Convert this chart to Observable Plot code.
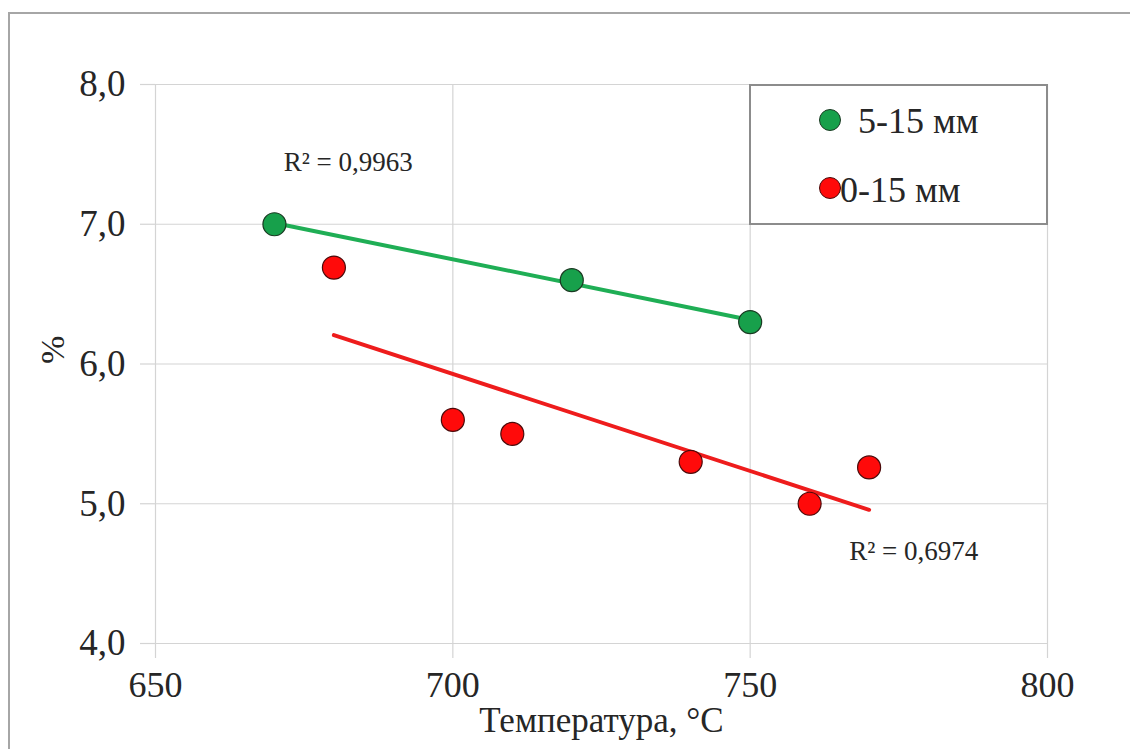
<!DOCTYPE html>
<html>
<head>
<meta charset="utf-8">
<script src="https://cdn.jsdelivr.net/npm/d3@7"></script>
<script src="https://cdn.jsdelivr.net/npm/@observablehq/plot@0.6"></script>
<style>
  html, body { margin: 0; padding: 0; background: #fff; }
  #wrap { position: relative; width: 1130px; height: 749px; overflow: hidden; font-family: "Liberation Serif", "Times New Roman", serif; color: #262626; }
  #outer { position: absolute; left: 8px; top: 12px; width: 1200px; height: 800px; border-left: 2px solid #a6a6a6; border-top: 2px solid #a6a6a6; pointer-events: none; }
  #legend { position: absolute; left: 749px; top: 84px; width: 295px; height: 137px; border: 2px solid #8c8c8c; background: #fff; }
  .lg { position: absolute; font-size: 36px; line-height: 1; white-space: nowrap; }
  .dot { position: absolute; width: 20px; height: 20px; border-radius: 50%; border: 1px solid #333; }
</style>
</head>
<body>
<div id="wrap">
  <div id="chart"></div>
  <div id="outer"></div>
</div>
<script>
// Data
const temp515 = [670, 720, 750];
const val515 = [7.0, 6.6, 6.3];
const temp015 = [680, 700, 710, 740, 760, 770];
const val015 = [6.69, 5.6, 5.5, 5.3, 5.0, 5.26];
const seriesNames = ["5-15 мм", "0-15 мм"];
const xTicks = [650, 700, 750, 800];
const yTicks = [4, 5, 6, 7, 8];
const r2Labels = ["R² = 0,9963", "R² = 0,6974"];
const r2X = [682.4, 777.5];
const r2Y = [7.443, 4.657];
const xLabel = "Температура, °C";
const yLabel = "%";

const green = "#17a04b";
const greenLine = "#1fae55";
const red = "#ff0a0a";
const redLine = "#ee1c1c";
const gridColor = "#d4d4d4";
const textColor = "#262626";
const font = "'Liberation Serif', 'Times New Roman', serif";

const s515 = temp515.map((t, i) => ({t, v: val515[i]}));
const s015 = temp015.map((t, i) => ({t, v: val015[i]}));
const ann = r2Labels.map((text, i) => ({text, x: r2X[i], y: r2Y[i]}));

const fmt = d => d3.format(".1f")(d).replace(".", ",");

const chart = Plot.plot({
  width: 1130,
  height: 749,
  marginLeft: 155,
  marginRight: 83,
  marginTop: 84,
  marginBottom: 106,
  style: { fontFamily: font, background: "transparent", color: textColor },
  x: { domain: [650, 800] },
  y: { domain: [4, 8] },
  marks: [
    Plot.gridX(xTicks, { stroke: gridColor, strokeOpacity: 1, strokeWidth: 1.2 }),
    Plot.gridY(yTicks, { stroke: gridColor, strokeOpacity: 1, strokeWidth: 1.2 }),
    Plot.axisX(xTicks, { tickSize: 15, stroke: gridColor, strokeOpacity: 1, strokeWidth: 1.2, tickFormat: () => "", label: null }),
    Plot.axisY(yTicks, { tickSize: 15, stroke: gridColor, strokeOpacity: 1, strokeWidth: 1.2, tickFormat: () => "", label: null }),
    Plot.axisX(xTicks, { tickSize: 0, tickPadding: 28, fontSize: 36, fill: textColor, label: null, tickFormat: d => String(d) }),
    Plot.axisY(yTicks, { tickSize: 0, tickPadding: 30, fontSize: 37, fill: textColor, label: null, tickFormat: fmt }),
    Plot.text([xLabel], { frameAnchor: "bottom", dy: 88, fontSize: 35, fill: textColor }),
    Plot.text([yLabel], { frameAnchor: "left", dx: -102, rotate: -90, fontSize: 34, fill: textColor }),
    Plot.linearRegressionY(s515, { x: "t", y: "v", stroke: greenLine, strokeWidth: 4, ci: 0 }),
    Plot.linearRegressionY(s015, { x: "t", y: "v", stroke: redLine, strokeWidth: 4, ci: 0 }),
    Plot.dot(s515, { x: "t", y: "v", r: 11.5, fill: green, stroke: "#1a3a22", strokeWidth: 1.2 }),
    Plot.dot(s015, { x: "t", y: "v", r: 11.5, fill: red, stroke: "#4a0a0a", strokeWidth: 1.2 }),
    Plot.text(ann, { x: "x", y: "y", text: "text", fontSize: 27, fill: textColor })
  ]
});
document.getElementById("chart").appendChild(chart);

// Legend (HTML overlay)
const legend = document.createElement("div");
legend.id = "legend";
const items = [
  { name: seriesNames[0], color: green, stroke: "#1a3a22", dotL: 68, dotT: 23, txtL: 107, txtT: 17 },
  { name: seriesNames[1], color: red, stroke: "#4a0a0a", dotL: 68, dotT: 91, txtL: 89, txtT: 86 }
];
items.forEach(it => {
  const d = document.createElement("div");
  d.className = "dot";
  d.style.left = it.dotL + "px";
  d.style.top = it.dotT + "px";
  d.style.background = it.color;
  d.style.borderColor = it.stroke;
  legend.appendChild(d);
  const t = document.createElement("div");
  t.className = "lg";
  t.style.left = it.txtL + "px";
  t.style.top = it.txtT + "px";
  t.textContent = it.name;
  legend.appendChild(t);
});
document.getElementById("wrap").appendChild(legend);
</script>
</body>
</html>
